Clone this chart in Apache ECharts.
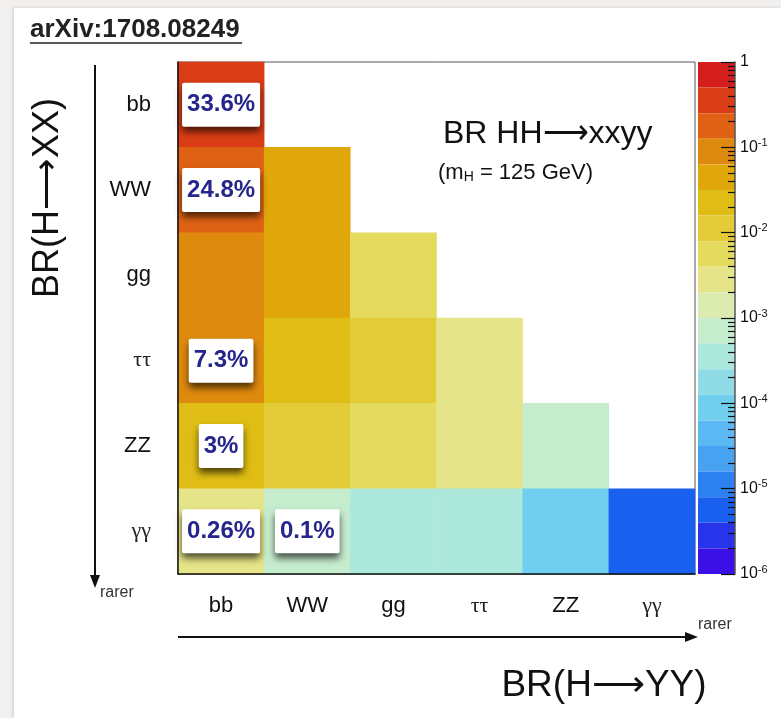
<!DOCTYPE html>
<html>
<head>
<meta charset="utf-8">
<script src="https://cdn.jsdelivr.net/npm/echarts@6/dist/echarts.min.js"></script>
<style>
  html, body { margin: 0; padding: 0; background: #f2efef; overflow: hidden; }
  #panel { position: absolute; left: 14px; top: 8px; right: 0; bottom: 0; background: #fff;
           box-shadow: -1px 0 3px rgba(0,0,0,0.15); }
  #chart { position: absolute; left: 0; top: 0; width: 781px; height: 718px; }
</style>
</head>
<body>
<div id="panel"></div>
<div id="chart"></div>
<script>
// Higgs decay channels, most to least frequent
const decays = ['bb', 'WW', 'gg', 'ττ', 'ZZ', 'γγ'];

// BR(HH → XXYY): one row per H→XX channel, columns over H→YY up to the diagonal
const rowBB = [0.336];
const rowWW = [0.248, 0.0463];
const rowGG = [0.095, 0.0352, 0.0067];
const rowTT = [0.073, 0.0269, 0.0102, 0.0039];
const rowZZ = [0.03, 0.0114, 0.0043, 0.0033, 0.0007];
const rowAA = [0.0026, 0.001, 0.00037, 0.00028, 0.00012, 0.0000052];

// channels whose percentage is printed in a box: [row, column]
const quoted = [[0, 0], [1, 0], [3, 0], [4, 0], [5, 0], [5, 1]];

// colour scale: log10 decades shown on the bar, and 20 contour colours from 1 down to 1e-6
const decadeTicks = [0, -1, -2, -3, -4, -5, -6];
const palette = [
  '#d41e1e', '#da3c16', '#df6214', '#de8a0e', '#dfa70a',
  '#e0bd14', '#e2cb36', '#e3da5e', '#e5e488', '#dcecb0',
  '#c6ecce', '#ace8dc', '#90dce6', '#70ceee', '#5cb8f2',
  '#48a2f2', '#2c80f0', '#1a60f0', '#2834ea', '#3a10e6'
];

const rows = [rowBB, rowWW, rowGG, rowTT, rowZZ, rowAA];
const isQuoted = (r, c) => quoted.some(q => q[0] === r && q[1] === c);

const cells = [];
rows.forEach((row, r) => {
  row.forEach((br, c) => {
    cells.push({
      value: [c, r, Math.log10(br)],
      br: br,
      label: { show: isQuoted(r, c) }
    });
  });
});

const step = 6 / palette.length;
const pieces = palette.map((color, k) => {
  const hi = -k * step, lo = -(k + 1) * step;
  return k === palette.length - 1 ? { gte: lo, lte: hi, color } : { gt: lo, lte: hi, color };
});

// minor ticks at 2..9 x 10^k on the colour bar
const minorTicks = [];
for (let d = -6; d < 0; d++) {
  for (let m = 2; m <= 9; m++) minorTicks.push(d + Math.log10(m));
}

const greek = s => /[τγ]/.test(s);
const catLabel = v => greek(v) ? '{g|' + v + '}' : v;
const catRich = { g: { fontFamily: 'Liberation Serif, DejaVu Serif, serif', fontSize: 22, color: '#222' } };

const barBox = { left: 698, top: 62, width: 37, height: 512 };

const chart = echarts.init(document.getElementById('chart'), null, { renderer: 'canvas' });

chart.setOption({
  backgroundColor: 'transparent',
  animation: false,
  textStyle: { fontFamily: 'Liberation Sans, Arial, sans-serif' },
  grid: [
    { left: 178, top: 62, width: 517, height: 512, show: true, backgroundColor: '#fff',
      borderColor: '#555', borderWidth: 1 },
    Object.assign({}, barBox),
    Object.assign({}, barBox)
  ],
  xAxis: [
    {
      type: 'category', gridIndex: 0, data: decays, z: 5,
      axisLine: { lineStyle: { color: '#111', width: 1.5 } },
      axisTick: { inside: true, length: 12, lineStyle: { color: '#111' } },
      axisLabel: { margin: 21, fontSize: 22, color: '#111', formatter: catLabel, rich: catRich },
      splitLine: { show: false }
    },
    { type: 'value', gridIndex: 1, show: false, min: 0, max: 1 },
    { type: 'value', gridIndex: 2, show: false, min: 0, max: 1 }
  ],
  yAxis: [
    {
      type: 'category', gridIndex: 0, data: decays, inverse: true, z: 5,
      axisLine: { lineStyle: { color: '#111', width: 1.5 } },
      axisTick: { inside: true, length: 14, lineStyle: { color: '#111' } },
      axisLabel: { margin: 27, fontSize: 22, color: '#111', formatter: catLabel, rich: catRich },
      splitLine: { show: false }
    },
    {
      type: 'value', gridIndex: 1, min: -6, max: 0, interval: 1, position: 'right', z: 10,
      axisLine: { show: true, onZero: false, lineStyle: { color: '#555', width: 1.5 } },
      axisTick: { show: true, inside: true, length: 14, lineStyle: { color: '#111', width: 1.2 } },
      axisLabel: {
        margin: 5, color: '#111',
        customValues: decadeTicks,
        formatter: v => v === 0 ? '{b|1}' : '{b|10}{s|' + v + '}',
        rich: {
          b: { fontSize: 16, color: '#111' },
          s: { fontSize: 11, color: '#111', padding: [0, 0, 9, 0] }
        }
      },
      splitLine: { show: false }
    },
    {
      type: 'value', gridIndex: 2, min: -6, max: 0, position: 'right', z: 10,
      axisLine: { show: false, onZero: false },
      axisTick: { show: true, inside: true, length: 7, customValues: minorTicks,
                  lineStyle: { color: '#111', width: 1.2 } },
      axisLabel: { show: false },
      splitLine: { show: false }
    }
  ],
  visualMap: {
    type: 'piecewise', seriesIndex: 0, dimension: 2,
    pieces: pieces, orient: 'vertical',
    left: barBox.left, top: barBox.top, itemWidth: barBox.width,
    itemHeight: barBox.height / palette.length, itemGap: 0,
    itemSymbol: 'rect', showLabel: false, padding: 0, z: 1,
    selectedMode: false, hoverLink: false
  },
  series: [{
    type: 'heatmap', xAxisIndex: 0, yAxisIndex: 0, data: cells,
    emphasis: { disabled: true },
    label: {
      position: 'inside',
      formatter: p => parseFloat((p.data.br * 100).toPrecision(3)) + '%',
      fontFamily: 'Liberation Sans, Arial, sans-serif',
      fontSize: 24, fontWeight: 'bold', color: '#25258c',
      backgroundColor: '#fff', padding: [10, 5], borderRadius: 2,
      shadowColor: 'rgba(0,0,0,0.65)', shadowBlur: 7, shadowOffsetY: 5
    }
  }],
  graphic: [
    { type: 'text', z: 20, style: { text: 'arXiv:1708.08249', x: 30, y: 30, textVerticalAlign: 'middle',
        font: 'bold 26px Liberation Sans, Arial, sans-serif', fill: '#222' } },
    { type: 'line', z: 20, shape: { x1: 30, y1: 43, x2: 242, y2: 43 }, style: { stroke: '#222', lineWidth: 1.5 } },

    { type: 'text', z: 20, style: { text: 'BR HH⟶xxyy', x: 443, y: 134, textVerticalAlign: 'middle',
        font: '32px Liberation Sans, Arial, sans-serif', fill: '#111' } },
    { type: 'text', z: 20, style: { text: '(m{sub|H} = 125 GeV)', x: 438, y: 173, textVerticalAlign: 'middle',
        font: '22px Liberation Sans, Arial, sans-serif', fill: '#111',
        rich: { sub: { fontSize: 14, padding: [8, 0, 0, 0], fill: '#111' } } } },

    { type: 'text', z: 20, rotation: Math.PI / 2, x: 48, y: 198,
      style: { text: 'BR(H⟶XX)', x: 0, y: 0, textAlign: 'center', textVerticalAlign: 'middle',
        font: '36px Liberation Sans, Arial, sans-serif', fill: '#111' } },
    { type: 'text', z: 20, style: { text: 'BR(H⟶YY)', x: 604, y: 686, textAlign: 'center', textVerticalAlign: 'middle',
        font: '37px Liberation Sans, Arial, sans-serif', fill: '#111' } },

    { type: 'line', z: 20, shape: { x1: 95, y1: 65, x2: 95, y2: 578 }, style: { stroke: '#111', lineWidth: 2 } },
    { type: 'polygon', z: 20, shape: { points: [[90, 575], [100, 575], [95, 588]] }, style: { fill: '#111' } },
    { type: 'text', z: 20, style: { text: 'rarer', x: 100, y: 593, textVerticalAlign: 'middle',
        font: '16px Liberation Sans, Arial, sans-serif', fill: '#333' } },

    { type: 'line', z: 20, shape: { x1: 178, y1: 637, x2: 688, y2: 637 }, style: { stroke: '#111', lineWidth: 2 } },
    { type: 'polygon', z: 20, shape: { points: [[685, 632], [685, 642], [698, 637]] }, style: { fill: '#111' } },
    { type: 'text', z: 20, style: { text: 'rarer', x: 698, y: 625, textVerticalAlign: 'middle',
        font: '16px Liberation Sans, Arial, sans-serif', fill: '#333' } }
  ]
});
</script>
</body>
</html>
